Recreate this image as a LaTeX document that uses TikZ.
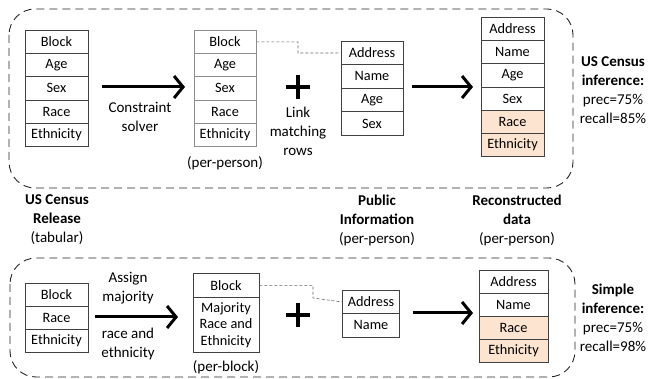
\documentclass[tikz,border=0pt]{standalone}
\usepackage{fontspec}
\setmainfont{Carlito}
\usetikzlibrary{arrows.meta}
\definecolor{peach}{HTML}{FCE4D0}
\begin{document}
\begin{tikzpicture}[x=1pt,y=-1pt,
  cell/.style={draw=black!75, line width=0.7pt, inner sep=0pt, anchor=north, minimum height=#1, font=\fontsize{14.3}{16}\selectfont},
  cell/.default=23.2pt,
  hl/.style={fill=peach},
  bigarrow/.style={line width=3pt, -{Straight Barb[length=9pt,width=22pt,line width=3pt]}},
  group/.style={draw=black!85, line width=0.9pt, dash pattern=on 8pt off 5pt, rounded corners=26pt},
  link/.style={draw=black!60, line width=0.6pt, dash pattern=on 3pt off 2pt},
  lbl/.style={align=center, font=\fontsize{15}{19}\selectfont},
  plusline/.style={line width=3.5pt}]
\useasboundingbox (0,0) rectangle (657,379);
% group boxes
\draw[group] (9,9) rectangle (573,188);
\draw[group] (10,258) rectangle (575,377);

% ---- top row ----
\foreach \t [count=\i from 0] in {Block,Age,Sex,Race,Ethnicity}
  \node[cell, minimum width=63pt] (a\i) at (56.5,30+\i*23.2) {\t};
\node[lbl] (cs) at (140,117) {Constraint\\solver};
\draw[bigarrow] (102,87) -- (185,87);

\foreach \t [count=\i from 0] in {Block,Age,Sex,Race,Ethnicity}
  \node[cell, draw=black!45, minimum width=62pt] (b\i) at (225,30+\i*23.2) {\t};
\node[lbl] (pp1) at (225,163) {(per-person)};

\draw[plusline] (286,87) -- (310,87);
\draw[plusline] (298,75) -- (298,99);
\node[lbl] (lm) at (298,131) {Link\\matching\\rows};

\foreach \t [count=\i from 0] in {Address,Name,Age,Sex}
  \node[cell, minimum width=62pt] (c\i) at (372,41+\i*23.5) {\t};
\draw[link] (b0.east) -| (298,53) -- (c0.west);

\draw[bigarrow] (412,87) -- (473,87);

\foreach \t [count=\i from 0] in {Address,Name,Age,Sex}
  \node[cell, minimum width=63pt] (d\i) at (512.5,17+\i*23.2) {\t};
\foreach \t [count=\i from 4] in {Race,Ethnicity}
  \node[cell, hl, minimum width=63pt] (d\i) at (512.5,17+\i*23.2) {\t};

\node[lbl] (r1) at (613,90) {\textbf{US Census}\\\textbf{inference:}\\prec=75\%\\recall=85\%};

% ---- middle labels ----
\node[lbl] (l1) at (57,220) {\textbf{US Census}\\\textbf{Release}\\(tabular)};
\node[lbl] (l2) at (377,220) {\textbf{Public}\\\textbf{Information}\\(per-person)};
\node[lbl] (l3) at (517,220) {\textbf{Reconstructed}\\\textbf{data}\\(per-person)};

% ---- bottom row ----
\foreach \t [count=\i from 0] in {Block,Race,Ethnicity}
  \node[cell, minimum width=63pt] (e\i) at (56.5,283+\i*23) {\t};
\node[lbl] (am) at (128,288) {Assign\\majority};
\node[lbl] (re) at (128,344) {race and\\ethnicity};
\draw[bigarrow] (95,317) -- (178,317);

\node[cell=24pt, minimum width=66pt] (f0) at (226,273) {Block};
\node[cell=55pt, minimum width=66pt, align=center, font=\fontsize{14.3}{16.5}\selectfont] (f1) at (226,297) {Majority\\Race and\\Ethnicity};
\node[lbl] (pb) at (226,367) {(per-block)};

\draw[plusline] (286,315) -- (310,315);
\draw[plusline] (298,303) -- (298,327);

\foreach \t [count=\i from 0] in {Address,Name}
  \node[cell, minimum width=57pt] (g\i) at (371,290+\i*23.5) {\t};
\draw[link] (f0.east) -| (313,298) -- (g0.west);

\draw[bigarrow] (413,313) -- (473,313);

\foreach \t [count=\i from 0] in {Address,Name}
  \node[cell, minimum width=69pt] (h\i) at (513.5,270+\i*23) {\t};
\foreach \t [count=\i from 2] in {Race,Ethnicity}
  \node[cell, hl, minimum width=69pt] (h\i) at (513.5,270+\i*23) {\t};

\node[lbl] (r2) at (613,318) {\textbf{Simple}\\\textbf{inference:}\\prec=75\%\\recall=98\%};
\end{tikzpicture}
\end{document}
